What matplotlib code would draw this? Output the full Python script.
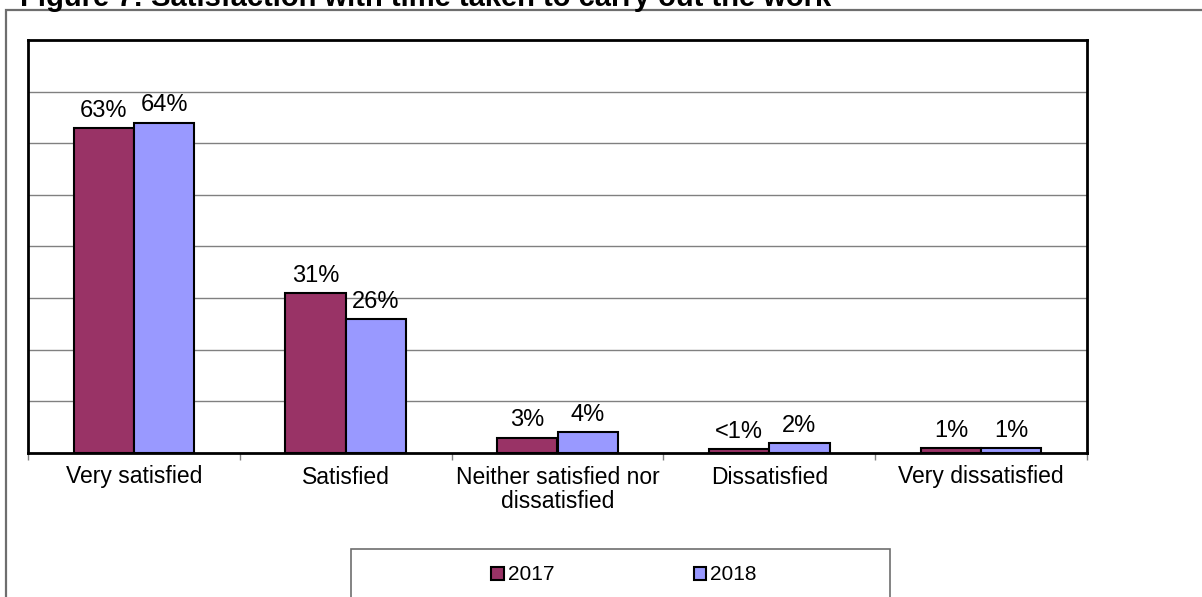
import matplotlib
matplotlib.use("Agg")
import matplotlib.pyplot as plt
from matplotlib.patches import Rectangle, Patch
import numpy as np

plt.rcParams['font.family'] = ['Liberation Sans', 'DejaVu Sans']

categories = ["Very satisfied", "Satisfied", "Neither satisfied nor\ndissatisfied",
              "Dissatisfied", "Very dissatisfied"]
values_2017 = [63, 31, 3, 0.8, 1]
values_2018 = [64, 26, 4, 2, 1]
labels_2017 = ["63%", "31%", "3%", "<1%", "1%"]
labels_2018 = ["64%", "26%", "4%", "2%", "1%"]
series_names = ["2017", "2018"]
colours = ["#993366", "#9999FF"]

W, H = 1202, 597
fig = plt.figure(figsize=(W / 100, H / 100), dpi=100)

def px(x, y):
    # pixel position (from top-left) to figure fraction
    return x / W, 1 - y / H

# outer chart frame, runs off the right and bottom edges
fig.patches.append(Rectangle(px(6, 620), (1220 - 6) / W, (620 - 10) / H,
                             transform=fig.transFigure, fill=False,
                             edgecolor="#6e6e6e", lw=1.6, zorder=0))

# title, partly clipped at the top
fig.text(*px(20, 6), "Figure 7: Satisfaction with time taken to carry out the work",
         fontsize=21, fontweight="bold", ha="left", va="baseline")

left, right, top, bottom = 28, 1087, 40, 453
ax = fig.add_axes([left / W, 1 - bottom / H, (right - left) / W, (bottom - top) / H])

x = np.arange(len(categories))
bw = 0.285
bars1 = ax.bar(x - bw / 2, values_2017, bw, color=colours[0], edgecolor="black", lw=1.5, zorder=3)
bars2 = ax.bar(x + bw / 2, values_2018, bw, color=colours[1], edgecolor="black", lw=1.5, zorder=3)

for bars, labels in ((bars1, labels_2017), (bars2, labels_2018)):
    for b, lab in zip(bars, labels):
        ax.annotate(lab, (b.get_x() + b.get_width() / 2, b.get_height()),
                    xytext=(0, 8), textcoords="offset points",
                    ha="center", va="baseline", fontsize=17)

ax.set_xlim(-0.5, len(categories) - 0.5)
ax.set_ylim(0, 80)
ax.set_yticks(np.arange(10, 80, 10))
ax.yaxis.grid(True, color="#808080", lw=1)
ax.tick_params(axis="y", length=0, labelleft=False)

ax.set_xticks(np.arange(len(categories) + 1) - 0.5)
ax.set_xticklabels([])
ax.tick_params(axis="x", which="major", length=5, width=1, color="#808080", direction="out")
ax.set_xticks(x, minor=True)
ax.set_xticklabels(categories, minor=True, fontsize=16.5, linespacing=1.1)
ax.tick_params(axis="x", which="minor", length=0, pad=9)

for s in ax.spines.values():
    s.set_linewidth(2)
    s.set_color("black")

# legend box
fig.patches.append(Rectangle(px(351, 620), (890 - 351) / W, (620 - 549) / H,
                             transform=fig.transFigure, fill=False,
                             edgecolor="#6e6e6e", lw=1.2, zorder=0))
handles = [Patch(facecolor=c, edgecolor="black", lw=1.5) for c in colours]
fig.legend(handles, series_names, loc="center", bbox_to_anchor=px(624, 575),
           ncol=2, frameon=False, fontsize=15, handlelength=0.58, handleheight=0.58,
           handletextpad=0.2, columnspacing=6.7, borderpad=0)

fig.savefig("out.png", dpi=100)
